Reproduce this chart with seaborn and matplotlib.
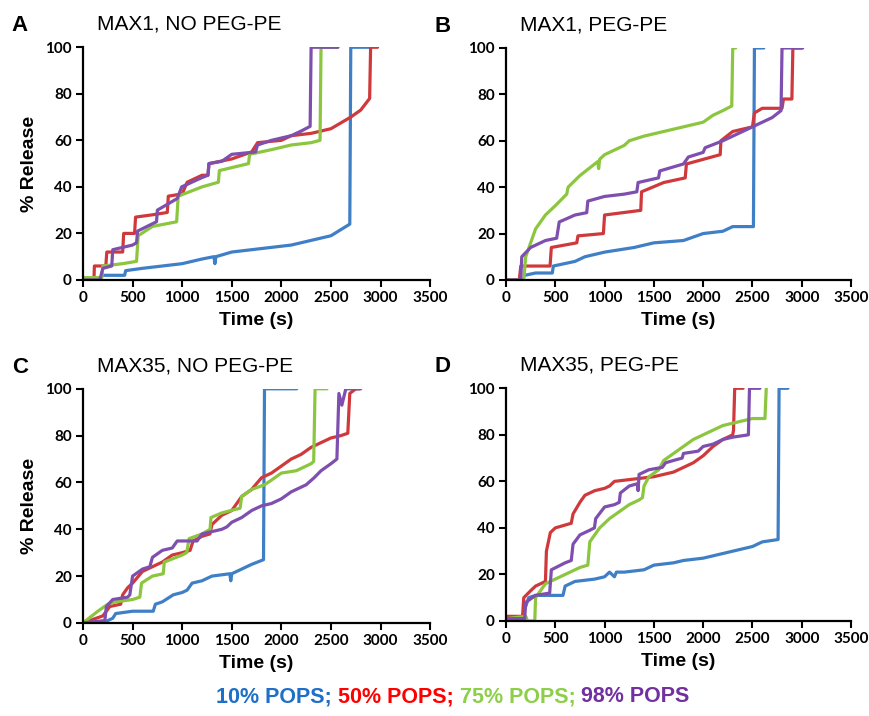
import matplotlib
matplotlib.use("Agg")
import matplotlib.pyplot as plt
import pandas as pd
import seaborn as sns

series_names = ["10% POPS", "50% POPS", "75% POPS", "98% POPS"]
line_colors = ["#3F7FC6", "#D0393B", "#8CC63F", "#7E4FAE"]
legend_colors = ["#1E6FC8", "#FF0000", "#8DCF4A", "#7030A0"]
panel_letters = ["A", "B", "C", "D"]
panel_titles = ["MAX1, NO PEG-PE", "MAX1, PEG-PE", "MAX35, NO PEG-PE", "MAX35, PEG-PE"]
x_ticks = [0, 500, 1000, 1500, 2000, 2500, 3000, 3500]
y_ticks = [0, 20, 40, 60, 80, 100]

# panel A: MAX1, no PEG-PE
a_blue_t = [200, 420, 430, 600, 800, 1000, 1200, 1320, 1330, 1340, 1500, 1700, 1900, 2100, 2300, 2500, 2690, 2700, 2900]
a_blue_v = [2, 2, 4, 5, 6, 7, 9, 10, 7, 10, 12, 13, 14, 15, 17, 19, 24, 100, 100]
a_red_t = [0, 110, 115, 230, 240, 400, 410, 520, 530, 700, 850, 860, 1000, 1050, 1200, 1260, 1270, 1500, 1700, 1760, 2000, 2100, 2300, 2500, 2700, 2800, 2890, 2900, 2970]
a_red_v = [0, 0, 6, 6, 12, 12, 20, 20, 27, 28, 29, 36, 37, 42, 45, 45, 50, 52, 55, 59, 60, 62, 63, 65, 70, 73, 78, 100, 100]
a_green_t = [0, 190, 200, 400, 540, 556, 700, 944, 960, 1200, 1365, 1375, 1669, 1680, 1900, 2100, 2300, 2390, 2400, 2570]
a_green_v = [1, 1, 6, 7, 8, 19, 23, 25, 36, 40, 42, 47, 50, 54, 56, 58, 59, 60, 100, 100]
a_purple_t = [0, 170, 200, 290, 300, 500, 540, 550, 741, 750, 950, 995, 1200, 1260, 1270, 1400, 1500, 1740, 1760, 1900, 2100, 2200, 2290, 2300, 2570]
a_purple_v = [0, 0, 5, 6, 13, 15, 16, 21, 25, 30, 35, 40, 44, 45, 50, 51, 54, 55, 58, 60, 62, 64, 66, 100, 100]

# panel B: MAX1, PEG-PE
b_blue_t = [190, 300, 470, 480, 700, 800, 1000, 1300, 1500, 1800, 2000, 2200, 2300, 2510, 2520, 2615]
b_blue_v = [2, 3, 3, 6, 8, 10, 12, 14, 16, 17, 20, 21, 23, 23, 100, 100]
b_red_t = [0, 135, 150, 447, 460, 718, 730, 988, 1000, 1367, 1375, 1600, 1818, 1830, 2173, 2180, 2300, 2500, 2520, 2600, 2800, 2815, 2900, 2910, 3000]
b_red_v = [0, 0, 6, 6, 14, 16, 19, 20, 28, 30, 38, 42, 44, 50, 54, 60, 64, 66, 72, 74, 74, 78, 78, 100, 100]
b_green_t = [0, 180, 200, 300, 400, 500, 616, 630, 750, 900, 930, 940, 950, 1000, 1100, 1200, 1250, 1400, 1600, 1800, 2000, 2100, 2200, 2290, 2300, 2330]
b_green_v = [0, 0, 10, 22, 28, 32, 37, 40, 45, 50, 51, 48, 52, 54, 56, 58, 60, 62, 64, 66, 68, 71, 73, 75, 100, 100]
b_purple_t = [0, 150, 160, 250, 400, 514, 540, 700, 819, 830, 1000, 1200, 1327, 1340, 1547, 1560, 1800, 1850, 2000, 2020, 2200, 2300, 2400, 2500, 2600, 2700, 2790, 2800, 3010]
b_purple_v = [0, 0, 10, 14, 17, 18, 25, 28, 29, 34, 36, 37, 38, 42, 44, 47, 50, 53, 55, 57, 60, 62, 64, 66, 68, 70, 73, 100, 100]

# panel C: MAX35, no PEG-PE
c_blue_t = [200, 300, 330, 500, 708, 730, 800, 910, 1000, 1050, 1100, 1200, 1300, 1480, 1490, 1500, 1600, 1700, 1820, 1830, 2155]
c_blue_v = [0, 2, 4, 5, 5, 8, 9, 12, 13, 14, 17, 18, 20, 21, 18, 21, 23, 25, 27, 100, 100]
c_red_t = [0, 200, 270, 380, 400, 450, 500, 600, 700, 800, 900, 1000, 1080, 1110, 1200, 1280, 1300, 1400, 1500, 1600, 1700, 1740, 1800, 1900, 2000, 2100, 2200, 2300, 2400, 2500, 2600, 2670, 2690, 2750, 2790]
c_red_v = [0, 3, 7, 8, 12, 15, 17, 22, 24, 26, 29, 30, 31, 35, 37, 38, 42, 46, 48, 54, 57, 59, 62, 64, 67, 70, 72, 75, 77, 79, 80, 81, 98, 100, 100]
c_green_t = [0, 150, 250, 330, 500, 573, 590, 700, 809, 820, 1000, 1045, 1070, 1200, 1281, 1290, 1400, 1584, 1600, 1700, 1830, 1900, 2000, 2150, 2200, 2300, 2326, 2340, 2460]
c_green_v = [0, 5, 8, 9, 10, 11, 17, 20, 21, 26, 29, 30, 36, 38, 40, 45, 47, 49, 54, 57, 59, 61, 64, 65, 66, 68, 69, 100, 100]
c_purple_t = [0, 220, 236, 300, 450, 472, 500, 600, 674, 700, 800, 900, 950, 1150, 1200, 1400, 1450, 1500, 1600, 1700, 1800, 1900, 2000, 2100, 2200, 2250, 2330, 2400, 2500, 2560, 2580, 2610, 2650, 2800]
c_purple_v = [0, 1, 7, 10, 11, 12, 20, 23, 24, 28, 31, 32, 35, 35, 38, 40, 41, 43, 45, 48, 50, 51, 53, 56, 58, 59, 62, 65, 68, 70, 98, 93, 100, 100]

# panel D: MAX35, PEG-PE
d_blue_t = [190, 230, 300, 578, 600, 700, 900, 1000, 1050, 1100, 1120, 1200, 1400, 1500, 1700, 1800, 2000, 2200, 2300, 2500, 2600, 2760, 2770, 2860]
d_blue_v = [5, 10, 11, 11, 15, 17, 18, 19, 21, 19, 21, 21, 22, 24, 25, 26, 27, 29, 30, 32, 34, 35, 100, 100]
d_red_t = [0, 168, 180, 250, 300, 400, 410, 450, 500, 662, 680, 750, 800, 900, 1000, 1050, 1100, 1300, 1500, 1600, 1700, 1800, 1900, 2000, 2100, 2200, 2300, 2308, 2320, 2405]
d_red_v = [2, 2, 10, 13, 15, 17, 30, 38, 40, 42, 46, 51, 54, 56, 57, 58, 60, 61, 62, 63, 64, 66, 68, 71, 75, 78, 80, 82, 100, 100]
d_green_t = [0, 200, 220, 292, 300, 400, 500, 600, 750, 830, 850, 950, 1050, 1150, 1250, 1350, 1384, 1400, 1450, 1550, 1600, 1700, 1800, 1900, 2000, 2100, 2200, 2300, 2400, 2500, 2627, 2640]
d_green_v = [1, 2, 0, 0, 10, 16, 18, 20, 23, 24, 34, 40, 44, 47, 50, 52, 53, 58, 62, 65, 69, 72, 75, 78, 80, 82, 84, 85, 86, 87, 87, 100]
d_purple_t = [0, 190, 200, 300, 443, 460, 600, 662, 680, 750, 850, 897, 910, 1000, 1100, 1149, 1160, 1250, 1334, 1340, 1350, 1450, 1585, 1620, 1700, 1787, 1800, 1950, 2000, 2100, 2200, 2300, 2459, 2470, 2576]
d_purple_v = [1, 1, 8, 11, 12, 22, 25, 26, 33, 37, 39, 40, 44, 49, 50, 51, 55, 58, 59, 56, 63, 65, 66, 68, 69, 70, 72, 73, 75, 76, 78, 79, 80, 100, 100]

curves = {
    "A": [(a_blue_t, a_blue_v), (a_red_t, a_red_v), (a_green_t, a_green_v), (a_purple_t, a_purple_v)],
    "B": [(b_blue_t, b_blue_v), (b_red_t, b_red_v), (b_green_t, b_green_v), (b_purple_t, b_purple_v)],
    "C": [(c_blue_t, c_blue_v), (c_red_t, c_red_v), (c_green_t, c_green_v), (c_purple_t, c_purple_v)],
    "D": [(d_blue_t, d_blue_v), (d_red_t, d_red_v), (d_green_t, d_green_v), (d_purple_t, d_purple_v)],
}

rows = []
for panel, pairs in curves.items():
    for name, (t, v) in zip(series_names, pairs):
        for ti, vi in zip(t, v):
            rows.append({"panel": panel, "series": name, "time": ti, "release": vi})
df = pd.DataFrame(rows)

sns.set_style("ticks")
plt.rcParams["font.family"] = ["Liberation Sans", "DejaVu Sans"]
plt.rcParams["text.color"] = "black"
plt.rcParams["axes.labelcolor"] = "black"

fig = plt.figure(figsize=(8.7, 7.16), dpi=100)

# axes boxes in figure fraction
boxes = {
    "A": [0.0954, 0.609, 0.399, 0.325],
    "B": [0.5816, 0.609, 0.3966, 0.324],
    "C": [0.0954, 0.130, 0.399, 0.327],
    "D": [0.5816, 0.1327, 0.3966, 0.325],
}
palette = dict(zip(series_names, line_colors))

for letter, title in zip(panel_letters, panel_titles):
    ax = fig.add_axes(boxes[letter])
    sub = df[df["panel"] == letter]
    sns.lineplot(data=sub, x="time", y="release", hue="series", palette=palette,
                 estimator=None, sort=False, lw=2.3, legend=False, ax=ax)
    ax.set_xlim(0, 3500)
    ax.set_ylim(0, 100)
    ax.set_xticks(x_ticks)
    ax.set_yticks(y_ticks)
    sns.despine(ax=ax)
    for s in ["left", "bottom"]:
        ax.spines[s].set_linewidth(1.6)
        ax.spines[s].set_color("black")
    ax.tick_params(direction="out", length=5, width=1.5, colors="black", labelsize=11, pad=3)
    for lab in ax.get_xticklabels() + ax.get_yticklabels():
        lab.set_fontweight("bold")
        lab.set_family(["Lato", "DejaVu Sans"])
    ax.set_xlabel("Time (s)", fontsize=14, fontweight="bold", labelpad=5)
    if letter in ("A", "C"):
        ax.set_ylabel("% Release", fontsize=14, fontweight="bold", labelpad=5)
    else:
        ax.set_ylabel("")
    x0, y0, w, h = boxes[letter]
    fig.text(x0 - 0.082, y0 + h + 0.03, letter, fontsize=16, fontweight="bold", va="center", ha="left")
    fig.text(x0 + 0.016, y0 + h + 0.032, title, fontsize=15, va="center", ha="left")

# coloured legend line at the bottom
fig.canvas.draw()
renderer = fig.canvas.get_renderer()
x_pos = 216 / 870
pieces = [name + (";" if i < len(series_names) - 1 else "") + " " for i, name in enumerate(series_names)]
for piece, col in zip(pieces, legend_colors):
    txt = fig.text(x_pos, 1 - 697 / 716, piece, color=col, fontsize=15.5, fontweight="bold",
                   va="center", ha="left")
    bb = txt.get_window_extent(renderer=renderer)
    x_pos += bb.width / fig.bbox.width

fig.savefig("out.png", dpi=100)
